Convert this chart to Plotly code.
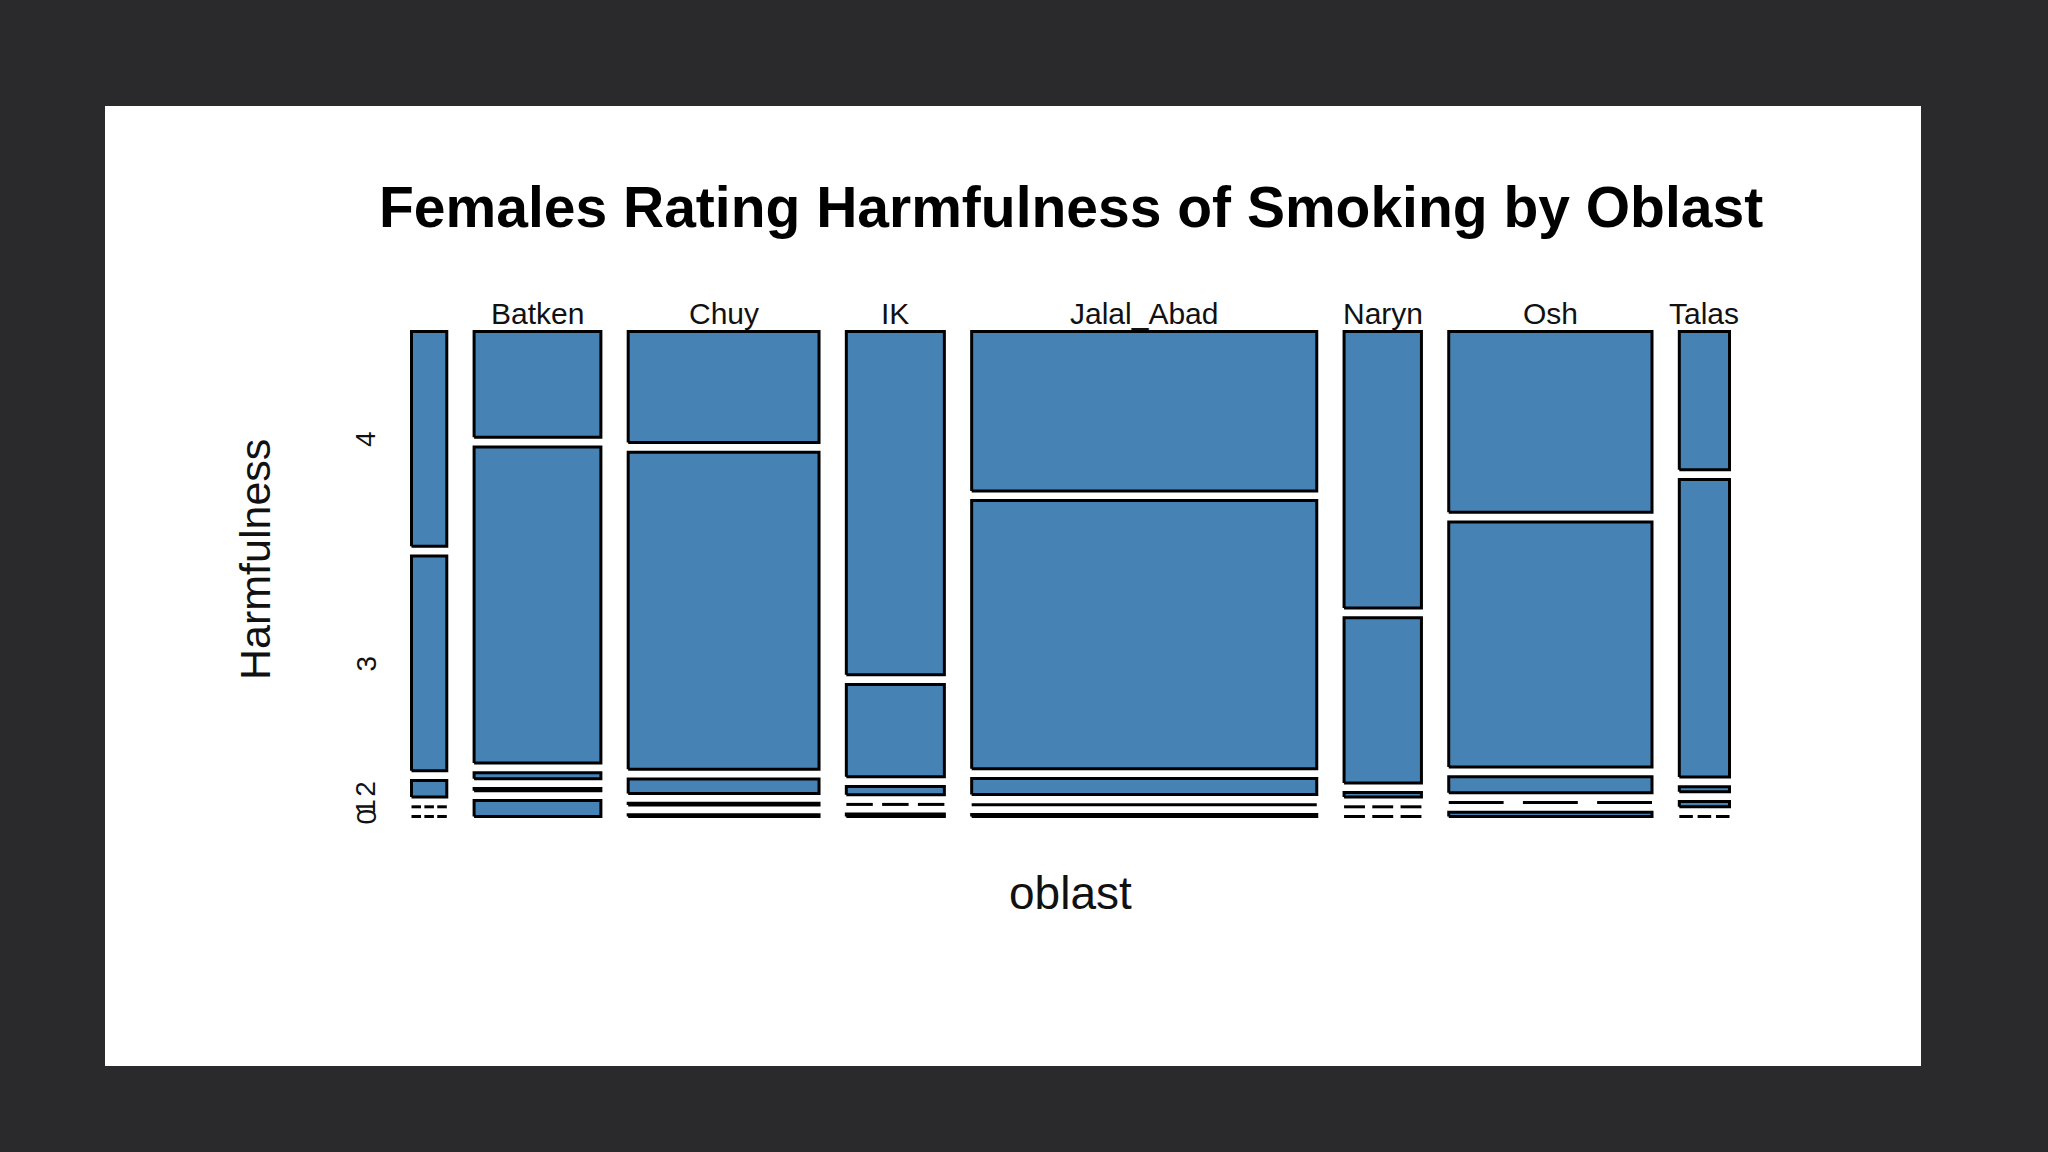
import plotly.graph_objects as go

# ---------------- data (weighted counts read from the mosaic) ----------------
oblasts = ["", "Batken", "Chuy", "IK", "Jalal_Abad", "Naryn", "Osh", "Talas"]
ratings = ["4", "3", "2", "1", "0"]          # drawn top to bottom
harm_4 = [13.0, 23.0, 36.3, 57.7, 94.3, 36.7, 63.0, 11.9]
harm_3 = [13.0, 68.7, 103.8, 15.5, 158.7, 21.9, 85.4, 25.6]
harm_2 = [1.0, 1.3, 4.7, 1.4, 9.5, 0.6, 5.6, 0.45]
harm_1 = [0.0, 0.5, 0.6, 0.0, 0.3, 0.0, 0.0, 0.45]
harm_0 = [0.0, 3.5, 0.6, 0.4, 1.2, 0.0, 1.5, 0.0]
series = [harm_4, harm_3, harm_2, harm_1, harm_0]

title_text = "Females Rating Harmfulness of Smoking by Oblast"
x_title = "oblast"
y_title = "Harmfulness"

# ---------------- layout constants (pixels) ----------------
W, H = 2048, 1152
PL, PR, PT, PB = 105, 1921, 106, 1066           # white panel = plot area
MOS_L, MOS_R, MOS_T, MOS_B = 411.5, 1729.5, 331.5, 816.5
OFF_X, OFF_Y = 0.145, 0.08                       # mosaicplot spacing
FILL = "#4682B4"
BG = "#2a2a2d"
FONT = "Liberation Sans, Arial, sans-serif"

sx = MOS_R - MOS_L
sy = MOS_B - MOS_T
x_range = [-(MOS_L - PL) / sx, 1 + (PR - MOS_R) / sx]
y_range = [-(PB - MOS_B) / sy, 1 + (MOS_T - PT) / sy]

def px_to_xd(px):
    return (px - MOS_L) / sx

def px_to_yd(py):
    return (MOS_B - py) / sy

# ---------------- mosaic geometry from the counts ----------------
col_tot = [sum(s[i] for s in series) for i in range(len(oblasts))]
N = sum(col_tot)
nx, ny = len(oblasts), len(ratings)
white_x = OFF_X / (nx - 1)
white_y = OFF_Y / (ny - 1)

cols = []
x = 0.0
for i in range(nx):
    w = (1 - OFF_X) * col_tot[i] / N
    cols.append((x, x + w))
    x += w + white_x

cells = []   # (col, row, x0, x1, ybot, ytop, value)
for i in range(nx):
    top = 1.0
    for j in range(ny):
        v = series[j][i]
        h = (1 - OFF_Y) * v / col_tot[i]
        cells.append((i, j, cols[i][0], cols[i][1], top - h, top, v))
        top = top - h - white_y

box_x, box_y = [], []
dash_x, dash_y = [], []
for (i, j, x0, x1, yb, yt, v) in cells:
    if v > 0:
        box_x += [x0, x1, x1, x0, x0, None]
        box_y += [yb, yb, yt, yt, yb, None]
    else:
        wcell = x1 - x0
        for a, b in [(0.0, 0.27), (0.365, 0.635), (0.73, 1.0)]:
            dash_x += [x0 + a * wcell, x0 + b * wcell, None]
            dash_y += [yt, yt, None]

fig = go.Figure()
fig.add_trace(go.Scatter(
    x=box_x, y=box_y, mode="lines", fill="toself", fillcolor=FILL,
    line=dict(color="black", width=3), hoverinfo="skip", showlegend=False))
fig.add_trace(go.Scatter(
    x=dash_x, y=dash_y, mode="lines",
    line=dict(color="black", width=3), hoverinfo="skip", showlegend=False))

ann = []
# title
ann.append(dict(x=0.5, y=px_to_yd(207), xref="x", yref="y", text="<b>%s</b>" % title_text,
                showarrow=False, font=dict(family=FONT, size=57, color="#000000"),
                xanchor="center", yanchor="middle"))
# column labels
for i, name in enumerate(oblasts):
    if name:
        ann.append(dict(x=(cols[i][0] + cols[i][1]) / 2, y=px_to_yd(313), xref="x", yref="y",
                        text=name, showarrow=False,
                        font=dict(family=FONT, size=30, color="#111111"),
                        xanchor="center", yanchor="middle"))
# y level labels at the first column's cell centres
for (i, j, x0, x1, yb, yt, v) in cells:
    if i == 0:
        ann.append(dict(x=px_to_xd(366), y=(yb + yt) / 2, xref="x", yref="y",
                        text=ratings[j], showarrow=False, textangle=-90,
                        font=dict(family=FONT, size=28, color="#111111"),
                        xanchor="center", yanchor="middle"))
# axis titles
ann.append(dict(x=0.5, y=px_to_yd(893), xref="x", yref="y", text=x_title, showarrow=False,
                font=dict(family=FONT, size=46, color="#111111"),
                xanchor="center", yanchor="middle"))
ann.append(dict(x=px_to_xd(255), y=px_to_yd(560), xref="x", yref="y", text=y_title,
                showarrow=False, textangle=-90,
                font=dict(family=FONT, size=43, color="#111111"),
                xanchor="center", yanchor="middle"))

fig.update_layout(
    width=W, height=H, autosize=False,
    margin=dict(l=PL, r=W - PR, t=PT, b=H - PB, pad=0),
    paper_bgcolor=BG, plot_bgcolor="#ffffff",
    xaxis=dict(range=x_range, visible=False, fixedrange=True),
    yaxis=dict(range=y_range, visible=False, fixedrange=True),
    annotations=ann, showlegend=False,
)

fig.write_html(
    "out.html",
    config={"displayModeBar": False, "staticPlot": True},
    post_script="document.body.style.margin='0';document.body.style.padding='0';"
                "document.body.style.background='%s';"
                "document.documentElement.style.background='%s';" % (BG, BG),
)
